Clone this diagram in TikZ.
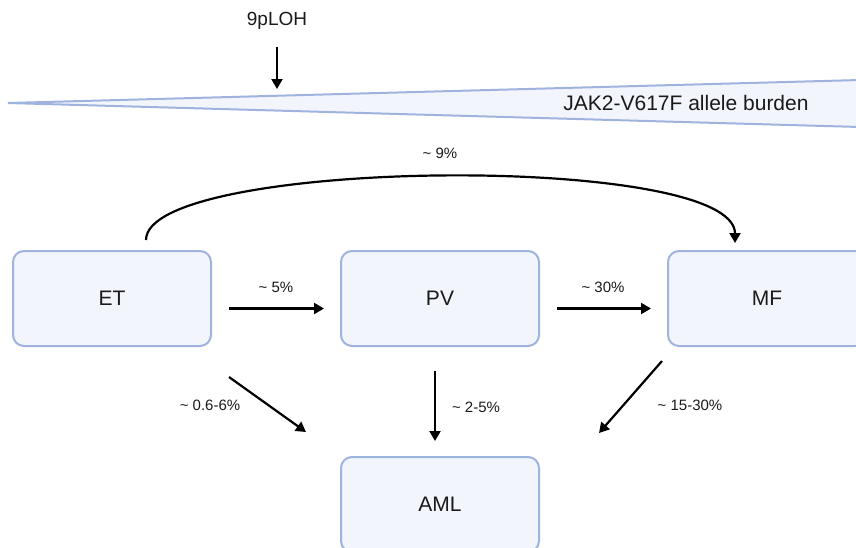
\documentclass[tikz,border=0pt]{standalone}
\usepackage{fontspec}
\setmainfont{Liberation Sans}
\usetikzlibrary{arrows.meta}
\definecolor{boxfill}{HTML}{F2F5FB}
\definecolor{boxline}{HTML}{9FB3DF}
\definecolor{txt}{HTML}{1A1A1A}
\tikzset{
  statebox/.style={draw=boxline, fill=boxfill, line width=2pt, rounded corners=11pt,
    minimum width=198pt, minimum height=95pt, text=txt, font=\fontsize{21}{23}\selectfont},
  arr/.style={line width=2.2pt, -{Triangle[length=10pt,width=11pt]}},
  lab/.style={text=txt, font=\fontsize{15}{17}\selectfont, inner sep=0pt},
}
\begin{document}
\begin{tikzpicture}[x=1pt,y=-1pt]
\useasboundingbox (0,0) rectangle (856,547);
\clip (0,0) rectangle (856,547);
% wedge
\coordinate (tip) at (8,103);
\coordinate (wt) at (860,80);
\coordinate (wb) at (860,127);
\fill[boxfill] (tip) -- (wt) -- (wb) -- cycle;
\draw[boxline, line width=2pt] (wt) -- (tip) -- (wb);
\node[text=txt, font=\fontsize{21}{23}\selectfont, inner sep=0pt] (burden) at (686,103) {JAK2-V617F allele burden};
% 9pLOH
\node[text=txt, font=\fontsize{19}{22}\selectfont, inner sep=0pt] (loh) at (277,21) {9pLOH};
\coordinate (lohend) at (277,89);
\draw[arr] (277,47) -- (lohend);
% boxes
\node[statebox] (ET) at (112,298.5) {ET};
\node[statebox] (PV) at (440,298.5) {PV};
\node[statebox] (MF) at (767,298.5) {MF};
\node[statebox] (AML) at (440,504.5) {AML};
% horizontal arrows
\draw[arr] ([xshift=17pt,yshift=-10pt]ET.east) -- ([xshift=-16pt,yshift=-10pt]PV.west);
\node[lab] (l5) at (276,287) {\textasciitilde{} 5\%};
\draw[arr] ([xshift=17pt,yshift=-10pt]PV.east) -- ([xshift=-16pt,yshift=-10pt]MF.west);
\node[lab] (l30) at (603,287) {\textasciitilde{} 30\%};
% curve
\coordinate (cs) at (146,240);
\coordinate (ce) at (735,243);
\draw[arr] (cs) .. controls (146,158) and (735,152) .. (ce);
\node[lab] (l9) at (440,153) {\textasciitilde{} 9\%};
% to AML
\draw[arr] (229,377) -- (306,432);
\node[lab] (l06) at (210,405) {\textasciitilde{} 0.6-6\%};
\draw[arr] (435,371) -- (435,441);
\node[lab] (l25) at (476,407) {\textasciitilde{} 2-5\%};
\draw[arr] (662,361) -- (599,433);
\node[lab] (l1530) at (690,405) {\textasciitilde{} 15-30\%};
\end{tikzpicture}
\end{document}
